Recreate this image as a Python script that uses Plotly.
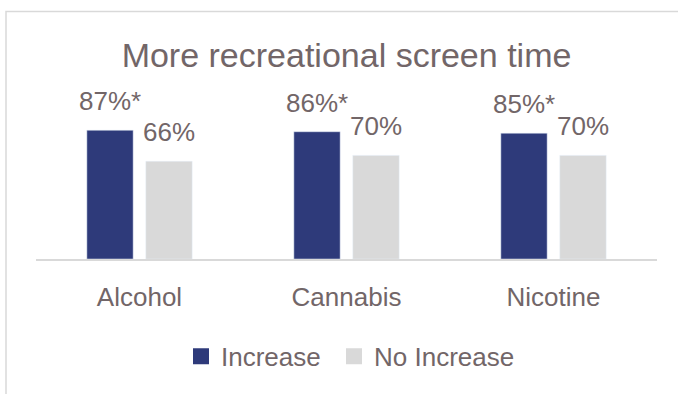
import plotly.graph_objects as go

# Share of respondents reporting more recreational screen time
categories = ["Alcohol", "Cannabis", "Nicotine"]
increase = [87, 86, 85]
no_increase = [66, 70, 70]
increase_labels = ["87%*", "86%*", "85%*"]
no_increase_labels = ["66%", "70%", "70%"]

NAVY = "#2E3A7A"
GREY = "#D9D9D9"
TEXT = "#726668"
FONT = "Liberation Sans"

fig = go.Figure()
fig.add_trace(go.Bar(x=categories, y=increase, name="Increase",
                     marker_color=NAVY, showlegend=False))
fig.add_trace(go.Bar(x=categories, y=no_increase, name="No Increase",
                     marker_color=GREY, showlegend=False))

# legend entries with larger square swatches, one legend box each
for nm, col, lg in [("Increase", NAVY, "legend"), ("No Increase", GREY, "legend2")]:
    fig.add_trace(go.Scatter(x=[None], y=[None], mode="markers", name=nm,
                             legend=lg,
                             marker=dict(symbol="square", size=16, color=col)))

# value labels above each bar
for cat, v, lab in zip(categories, increase, increase_labels):
    fig.add_annotation(x=cat, y=v, text=lab, xshift=-29.5, yshift=12,
                       showarrow=False, yanchor="bottom",
                       font=dict(size=26, color=TEXT, family=FONT))
for cat, v, lab in zip(categories, no_increase, no_increase_labels):
    fig.add_annotation(x=cat, y=v, text=lab, xshift=29.5, yshift=12,
                       showarrow=False, yanchor="bottom",
                       font=dict(size=26, color=TEXT, family=FONT))

# chart frame
fig.add_shape(type="rect", xref="paper", yref="paper",
              x0=-0.0483, x1=1.06, y0=-1.0, y1=1.673,
              line=dict(color="#D9D9D9", width=1.5), layer="below")

legend_style = dict(orientation="h", xanchor="left", y=-0.657,
                    yanchor="middle", font=dict(size=26, color=TEXT, family=FONT),
                    bgcolor="rgba(0,0,0,0)")

fig.update_layout(
    width=678, height=394,
    margin=dict(l=36, r=21, t=111, b=134.5),
    paper_bgcolor="white", plot_bgcolor="white",
    barmode="group", bargap=0.43, bargroupgap=0.215,
    title=dict(text="More recreational screen time", x=0.5, xref="paper",
               y=1 - 55 / 394, yref="container", yanchor="middle",
               font=dict(size=34, color=TEXT, family=FONT)),
    legend=dict(x=(181 - 36) / 621, **legend_style),
    legend2=dict(x=(334 - 36) / 621, **legend_style),
    font=dict(family=FONT, color=TEXT),
)
fig.update_xaxes(showline=True, linecolor="#D9D9D9", linewidth=1.5,
                 ticks="", ticklabelstandoff=14,
                 tickfont=dict(size=26, color=TEXT, family=FONT))
fig.update_yaxes(range=[0, 100], visible=False, showgrid=False)

fig.write_html("out.html")
